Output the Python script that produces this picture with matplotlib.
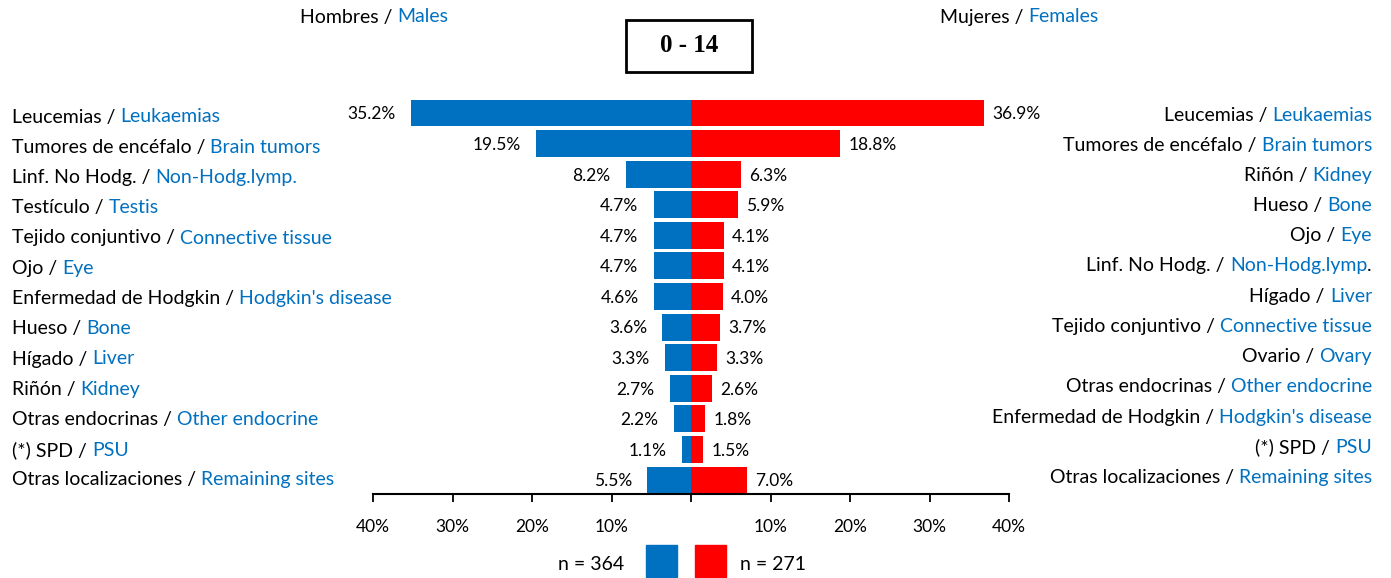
import matplotlib.pyplot as plt
from matplotlib.text import Annotation

# Data (percent of cases, age 0-14)
male_es = ["Leucemias", "Tumores de encéfalo", "Linf. No Hodg.", "Testículo",
           "Tejido conjuntivo", "Ojo", "Enfermedad de Hodgkin", "Hueso",
           "Hígado", "Riñón", "Otras endocrinas", "(*) SPD", "Otras localizaciones"]
male_en = ["Leukaemias", "Brain tumors", "Non-Hodg.lymp.", "Testis",
           "Connective tissue", "Eye", "Hodgkin's disease", "Bone",
           "Liver", "Kidney", "Other endocrine", "PSU", "Remaining sites"]
male_pct = [35.2, 19.5, 8.2, 4.7, 4.7, 4.7, 4.6, 3.6, 3.3, 2.7, 2.2, 1.1, 5.5]

female_es = ["Leucemias", "Tumores de encéfalo", "Riñón", "Hueso", "Ojo",
             "Linf. No Hodg.", "Hígado", "Tejido conjuntivo", "Ovario",
             "Otras endocrinas", "Enfermedad de Hodgkin", "(*) SPD",
             "Otras localizaciones"]
female_en = ["Leukaemias", "Brain tumors", "Kidney", "Bone", "Eye",
             "Non-Hodg.lymp", "Liver", "Connective tissue", "Ovary",
             "Other endocrine", "Hodgkin's disease", "PSU", "Remaining sites"]
female_tail = ["", "", "", "", "", ".", "", "", "", "", "", "", ""]
female_pct = [36.9, 18.8, 6.3, 5.9, 4.1, 4.1, 4.0, 3.7, 3.3, 2.6, 1.8, 1.5, 7.0]

n_male = 364
n_female = 271
age_group = "0 - 14"

BLUE = "#0070C0"
RED = "#FF0000"
plt.rcParams['font.family'] = ['Lato', 'DejaVu Sans']

W, H = 1391, 578
fig = plt.figure(figsize=(W / 100, H / 100), dpi=100)

lab_fs = 14
val_fs = 12.5


def follow(s, anchor, side, color='black', fs=lab_fs):
    # place text s right after (side=1) or right before (side=0) the anchor text
    return fig.add_artist(Annotation(s, xy=(side, 0), xycoords=anchor,
                                     ha='left' if side else 'right', va='bottom',
                                     fontsize=fs, color=color))


# axes in pixel coords
x0, x1 = 373, 1009
ytop, ybot = 97.7, 493.5
ax = fig.add_axes([x0 / W, 1 - ybot / H, (x1 - x0) / W, (ybot - ytop) / H])

rows = list(range(len(male_pct)))
ax.barh(rows, [-v for v in male_pct], height=0.88, color=BLUE)
ax.barh(rows, female_pct, height=0.88, color=RED)
ax.set_xlim(-40, 40)
ax.set_ylim(len(rows) - 1 + 0.44, -0.5)

for r, v in zip(rows, male_pct):
    ax.annotate(f"{v:.1f}%", (-v, r), xytext=(-11, -1), textcoords='offset points',
                ha='right', va='center', fontsize=val_fs)
for r, v in zip(rows, female_pct):
    ax.annotate(f"{v:.1f}%", (v, r), xytext=(6, -1), textcoords='offset points',
                ha='left', va='center', fontsize=val_fs)

for s in ['top', 'left', 'right']:
    ax.spines[s].set_visible(False)
ax.spines['bottom'].set_linewidth(1.5)
ax.set_yticks([])
ticks = [-40, -30, -20, -10, 0, 10, 20, 30, 40]
ax.set_xticks(ticks)
ax.set_xticklabels([f"{abs(t)}%" if t != 0 else "" for t in ticks], fontsize=val_fs)
ax.tick_params(axis='x', direction='out', length=6, width=1.3, pad=12)

# left labels
for i, (es, en) in enumerate(zip(male_es, male_en)):
    y = 1 - (117 + 30.25 * i) / H
    t = fig.text(12 / W, y, es + " / ", fontsize=lab_fs, ha='left', va='center')
    follow(en, t, 1, BLUE)

# right labels
for i, (es, en, tail) in enumerate(zip(female_es, female_en, female_tail)):
    y = 1 - (114 + 30.2 * i + 1) / H
    if tail:
        t = fig.text(1372 / W, y, tail, fontsize=lab_fs, ha='right', va='center')
        b = follow(en, t, 0, BLUE)
    else:
        b = fig.text(1372 / W, y, en, fontsize=lab_fs, ha='right', va='center',
                     color=BLUE)
    follow(es + " / ", b, 0)

# headers
h1 = fig.text(300 / W, 1 - 17 / H, "Hombres / ", fontsize=lab_fs, ha='left', va='center')
follow("Males", h1, 1, BLUE)
h2 = fig.text(940 / W, 1 - 17 / H, "Mujeres / ", fontsize=lab_fs, ha='left', va='center')
follow("Females", h2, 1, BLUE)

# title box
fig.add_artist(plt.Rectangle((626 / W, 1 - 72 / H), 126 / W, 52 / H,
                             transform=fig.transFigure, fill=False,
                             edgecolor='black', linewidth=2))
fig.text(689 / W, 1 - 46 / H, age_group, fontsize=18, fontweight='bold',
         family='Liberation Serif', ha='center', va='center')

# legend
fig.add_artist(plt.Rectangle((646 / W, 1 - 577 / H), 31 / W, 32 / H,
                             transform=fig.transFigure, color=BLUE))
fig.add_artist(plt.Rectangle((695 / W, 1 - 577 / H), 31 / W, 32 / H,
                             transform=fig.transFigure, color=RED))
fig.text(624 / W, 1 - 565 / H, f"n = {n_male}", fontsize=lab_fs, ha='right', va='center')
fig.text(740 / W, 1 - 565 / H, f"n = {n_female}", fontsize=lab_fs, ha='left', va='center')

fig.savefig("out.png", dpi=100)
